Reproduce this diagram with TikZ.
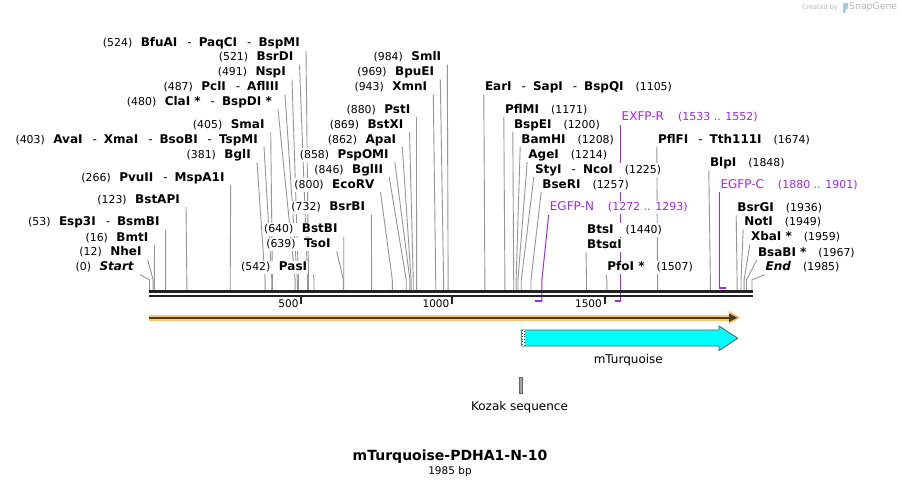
\documentclass[tikz,border=0pt]{standalone}
\usepackage{fontspec}
\setmainfont{DejaVu Sans}
\usetikzlibrary{calc}
\pgfdeclarelayer{bg}
\pgfsetlayers{bg,main}
\definecolor{cutgray}{RGB}{150,150,150}
\definecolor{bbone}{RGB}{34,34,34}
\definecolor{primer}{RGB}{160,40,240}
\definecolor{orflight}{RGB}{255,200,115}
\definecolor{orfdark}{RGB}{70,58,45}
\definecolor{turq}{RGB}{0,255,255}
\definecolor{wmark}{RGB}{185,185,185}
\definecolor{snapblue}{RGB}{160,200,235}
\newcommand{\numf}{\fontsize{10.9}{13}\selectfont\mdseries}
\newcommand{\hy}{\hspace{10pt}{\fontsize{12}{14}\selectfont\mdseries -}\hspace{7pt}}
\newcommand{\gapL}{\hspace{8.5pt}}
\newcommand{\gapR}{\hspace{12pt}}
\newcommand{\sitex}[1]{149.5+0.3035*#1}
% left label: name, line x, y, position, text
\newcommand{\cutL}[5]{%
  \node[enzlab, anchor=east] (#1) at ({#2-5},{#3+1}) {#5};
  \coordinate (#1s) at ({\sitex{#4}}, 280);
  \coordinate (#1b) at ({\sitex{#4}}, 291);
  \begin{pgfonlayer}{bg}
  \draw[cutline] ([xshift=5pt]#1.south east) -- (#1s) -- (#1b);
  \end{pgfonlayer}}
% right label
\newcommand{\cutR}[5]{%
  \node[enzlab, anchor=west] (#1) at ({#2-0.5},{#3+1}) {#5};
  \coordinate (#1s) at ({\sitex{#4}}, 280);
  \coordinate (#1b) at ({\sitex{#4}}, 291);
  \begin{pgfonlayer}{bg}
  \draw[cutline] (#1.south west) -- (#1s) -- (#1b);
  \end{pgfonlayer}}
\begin{document}
\begin{tikzpicture}[x=1pt,y=-1pt,
  enzlab/.style={inner sep=1pt, fill=white, font=\fontsize{12}{14}\selectfont\bfseries, text height=9pt, text depth=2.5pt},
  primlab/.style={inner sep=1pt, fill=white, text=primer, font=\fontsize{12}{14}\selectfont, text height=9pt, text depth=2.5pt},
  cutline/.style={draw=cutgray, line width=0.9pt},
  primline/.style={draw=primer, line width=1pt},
  primbar/.style={draw=primer, line width=1.8pt},
  plain/.style={inner sep=0pt, font=\fontsize{12}{14}\selectfont}
]
\useasboundingbox (0,0) rectangle (902,488);
\begin{pgfonlayer}{bg}
\fill[white] (0,0) rectangle (902,488);
\end{pgfonlayer}

% watermark
\node[anchor=east, text=wmark, font=\fontsize{6.5}{8}\selectfont, inner sep=0pt] (crby) at (838,7.5) {Created by};
\fill[snapblue, rounded corners=0.8pt] (843,3) -- (848,3) -- (848,9) -- (845.6,9) -- (845.6,13) -- (843,13) -- cycle;
\node[anchor=west, text=wmark, font=\fontsize{9.3}{10}\selectfont, inner sep=0pt] (sg) at (849,7.5) {SnapGene};

% left labels
\cutL{bfu}{306}{42.7}{524}{{\numf(524)}\gapL BfuAI\hy PaqCI\hy BspMI}
\cutL{bsrdi}{299.5}{56.7}{521}{{\numf(521)}\gapL BsrDI}
\cutL{nspi}{292}{71.7}{491}{{\numf(491)}\gapL NspI}
\cutL{pcli}{285}{86.5}{487}{{\numf(487)}\gapL PclI\hy AflIII}
\cutL{clai}{278}{101.3}{480}{{\numf(480)}\gapL ClaI *\hy BspDI *}
\cutL{smai}{270.7}{124.5}{405}{{\numf(405)}\gapL SmaI}
\cutL{avai}{264}{139}{403}{{\numf(403)}\gapL AvaI\hy XmaI\hy BsoBI\hy TspMI}
\cutL{bgli}{257}{154.5}{381}{{\numf(381)}\gapL BglI}
\cutL{pvuii}{230.7}{177}{266}{{\numf(266)}\gapL PvuII\hy MspA1I}
\cutL{bstapi}{186}{199}{123}{{\numf(123)}\gapL BstAPI}
\cutL{esp3i}{165.7}{221.7}{53}{{\numf(53)}\gapL Esp3I\hy BsmBI}
\cutL{bmti}{154.5}{237}{16}{{\numf(16)}\gapL BmtI}
\cutL{nhei}{147.7}{251.7}{12}{{\numf(12)}\gapL NheI}
\cutL{start}{140.3}{266.7}{0}{{\numf(0)}\gapL\textit{Start}}
\cutL{pasi}{313.3}{266.7}{542}{{\numf(542)}\gapL PasI}
\cutL{tsoi}{336.7}{243.3}{639}{{\numf(639)}\gapL TsoI}
\cutL{bstbi}{343.7}{228.7}{640}{{\numf(640)}\gapL BstBI}
\cutL{bsrbi}{371.3}{206.7}{732}{{\numf(732)}\gapL BsrBI}
\cutL{ecorv}{380.5}{184}{800}{{\numf(800)}\gapL EcoRV}
\cutL{bglii}{389.2}{169}{846}{{\numf(846)}\gapL BglII}
\cutL{pspomi}{394.8}{154}{858}{{\numf(858)}\gapL PspOMI}
\cutL{apai}{402.3}{139}{862}{{\numf(862)}\gapL ApaI}
\cutL{bstxi}{409.5}{124}{869}{{\numf(869)}\gapL BstXI}
\cutL{psti}{416.5}{109}{880}{{\numf(880)}\gapL PstI}
\cutL{xmni}{433.3}{86.7}{943}{{\numf(943)}\gapL XmnI}
\cutL{bpuei}{440.3}{71.7}{969}{{\numf(969)}\gapL BpuEI}
\cutL{smli}{447.3}{56.7}{984}{{\numf(984)}\gapL SmlI}

% right labels
\cutR{eari}{484.3}{86.7}{1105}{EarI\hy SapI\hy BspQI\gapR{\numf(1105)}}
\cutR{pflmi}{504.3}{109}{1171}{PflMI\gapR{\numf(1171)}}
\cutR{bspei}{513.3}{124}{1200}{BspEI\gapR{\numf(1200)}}
\cutR{bamhi}{520.7}{139}{1208}{BamHI\gapR{\numf(1208)}}
\cutR{agei}{527.7}{154}{1214}{AgeI\gapR{\numf(1214)}}
\cutR{styi}{534.3}{169}{1225}{StyI\hy NcoI\gapR{\numf(1225)}}
\cutR{bseri}{541.7}{184}{1257}{BseRI\gapR{\numf(1257)}}
\node[enzlab, anchor=west] (btsi) at (586,230) {BtsI\gapR{\numf(1440)}};
\cutR{btsa}{586.5}{244}{1440}{BtsαI}
\cutR{pfoi}{606.7}{266.7}{1507}{PfoI *\gapR{\numf(1507)}}
\cutR{pflfi}{657.3}{139}{1674}{PflFI\hy Tth111I\gapR{\numf(1674)}}
\cutR{blpi}{709.3}{162.3}{1848}{BlpI\gapR{\numf(1848)}}
\cutR{bsrgi}{736.7}{207.3}{1936}{BsrGI\gapR{\numf(1936)}}
\cutR{noti}{743.7}{221.7}{1949}{NotI\gapR{\numf(1949)}}
\cutR{xbai}{750.3}{236.7}{1959}{XbaI *\gapR{\numf(1959)}}
\cutR{bsabi}{757.3}{252}{1967}{BsaBI *\gapR{\numf(1967)}}
\cutR{endl}{765}{266.7}{1985}{\textit{End}\gapR{\numf(1985)}}

% primers
\node[primlab, anchor=west] (egfpn) at (548.7,207.7) {EGFP-N\hspace{14pt}{\fontsize{11}{13}\selectfont(1272 .. 1293)}};
\node[primlab, anchor=west] (exfpr) at (620.5,117.7) {EXFP-R\hspace{14pt}{\fontsize{11}{13}\selectfont(1533 .. 1552)}};
\node[primlab, anchor=west] (egfpc) at (719.3,185) {EGFP-C\hspace{14pt}{\fontsize{11}{13}\selectfont(1880 .. 1901)}};
\coordinate (egfpnk) at (541.9,280);
\coordinate (egfpnb) at (541.9,301);
\coordinate (egfpnl) at (535.4,301);
\coordinate (exfprb) at (620.5,301);
\coordinate (exfprl) at (614.6,301);
\coordinate (egfpcb) at (719.3,288);
\coordinate (egfpcr) at (725.6,288);
\begin{pgfonlayer}{bg}
\draw[primline] (egfpn.south west) -- (egfpnk) -- (egfpnb);
\draw[primline] (exfpr.south west) -- (exfprb);
\draw[primline] (egfpc.south west) -- (egfpcb);
\end{pgfonlayer}
\draw[primbar] (egfpnl) -- (egfpnb);
\draw[primbar] (exfprl) -- (exfprb);
\draw[primbar] (egfpcb) -- (egfpcr);

% backbone
\draw[bbone, line width=2.5pt] (149,291.6) -- (752.5,291.6);
\draw[bbone, line width=2.5pt] (149,295.8) -- (752.5,295.8);
\foreach \tx/\tl/\tn in {301.2/500/t5, 452/1000/t10, 604.5/1500/t15}{
  \draw[bbone, line width=2pt] (\tx,297) -- (\tx,304);
  \node[anchor=east, inner sep=0pt, font=\fontsize{10.5}{12}\selectfont] (\tn) at (\tx-2.5,304) {\tl};
}

% orange feature bar
\fill[orflight] (149,314.6) rectangle (731,320.8);
\fill[orflight] (729,310.8) -- (740.5,317.7) -- (729,324.6) -- cycle;
\draw[orfdark, line width=2.2pt] (149,317.7) -- (731,317.7);
\fill[orfdark] (729,313.4) -- (737.5,317.7) -- (729,322) -- cycle;

% mTurquoise
\filldraw[fill=turq, draw=black!65, line width=0.8pt] (521.3,330) -- (719,330) -- (719,326) -- (737.7,338.3) -- (719,350.7) -- (719,346) -- (521.3,346) -- cycle;
\fill[white] (521.7,330.4) rectangle (525,345.6);
\draw[black!70, dotted, line width=0.7pt] (522.6,330.4) -- (522.6,345.6);
\draw[black!70, dotted, line width=0.7pt] (524.2,331) -- (524.2,345.6);
\node[plain] (mturq) at (628.3,360) {mTurquoise};

% Kozak
\filldraw[fill=black!35, draw=black!60, line width=0.6pt] (519.3,377.3) rectangle (522.7,393.3);
\node[plain] (kozak) at (519.5,407) {Kozak sequence};

% title
\node[inner sep=0pt, font=\fontsize{14}{16}\selectfont\bfseries] (title) at (450,457) {mTurquoise-PDHA1-N-10};
\node[inner sep=0pt, font=\fontsize{10.5}{12}\selectfont] (bp) at (450,472) {1985 bp};
\end{tikzpicture}
\end{document}
